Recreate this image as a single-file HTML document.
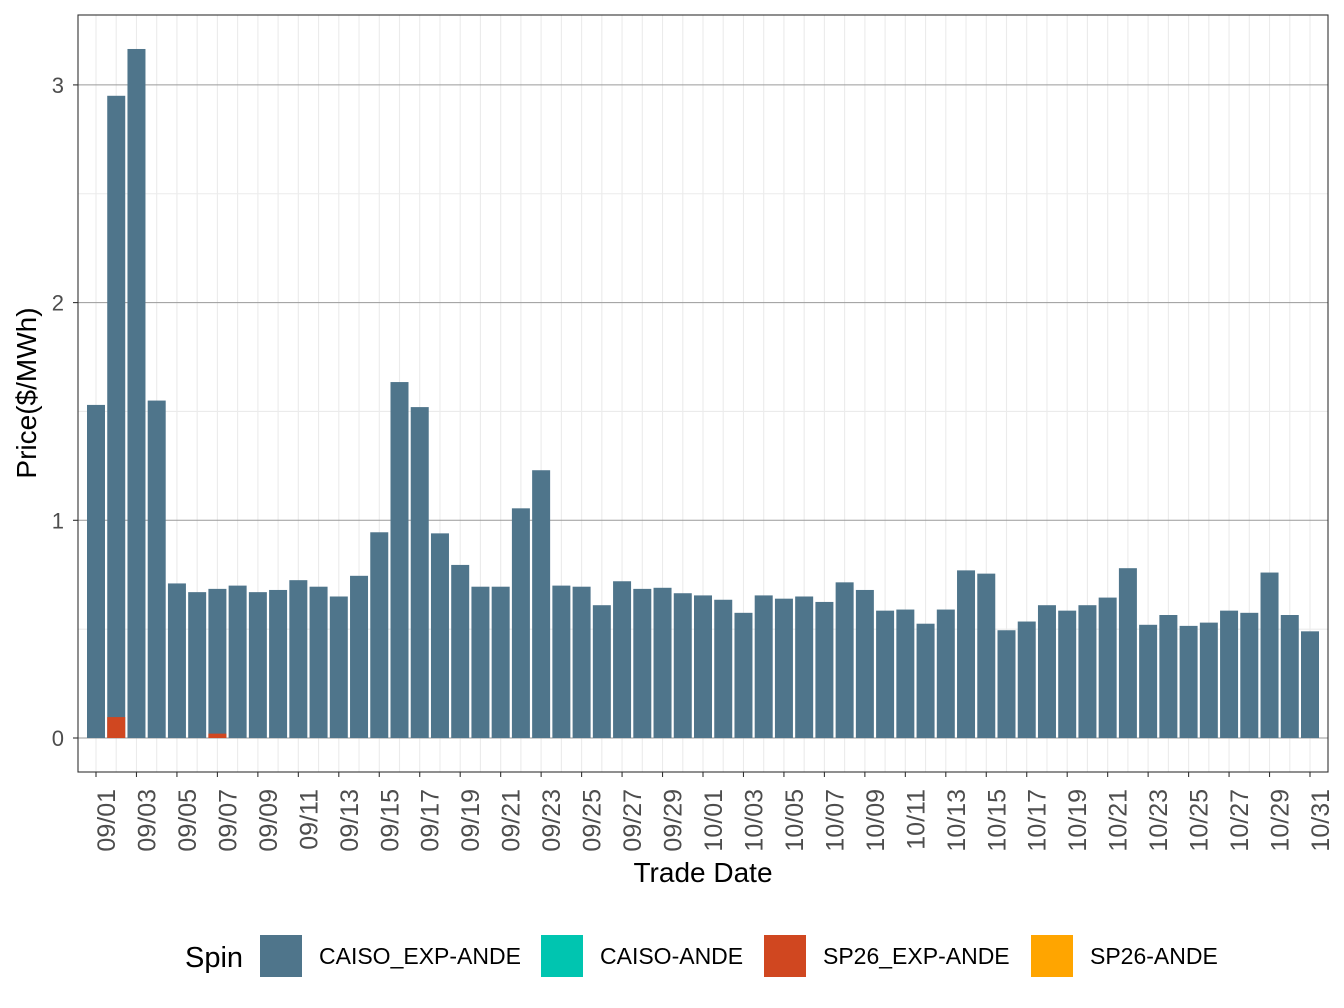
<!DOCTYPE html>
<html><head><meta charset="utf-8">
<style>
body{margin:0;background:#fff;}
svg{display:block;font-family:"Liberation Sans",Arial,sans-serif;}
</style></head>
<body>
<svg id="chart" width="1344" height="1008">
<rect x="0" y="0" width="1344" height="1008" fill="#fff"/>
<g id="grid"></g>
<g id="bars"></g>
<g id="axes"></g>
<g id="legend"></g>
</svg>
<script>
const dates=["09/01","09/02","09/03","09/04","09/05","09/06","09/07","09/08","09/09","09/10","09/11","09/12","09/13","09/14","09/15","09/16","09/17","09/18","09/19","09/20","09/21","09/22","09/23","09/24","09/25","09/26","09/27","09/28","09/29","09/30","10/01","10/02","10/03","10/04","10/05","10/06","10/07","10/08","10/09","10/10","10/11","10/12","10/13","10/14","10/15","10/16","10/17","10/18","10/19","10/20","10/21","10/22","10/23","10/24","10/25","10/26","10/27","10/28","10/29","10/30","10/31"];
const caisoExp=[1.53,2.95,3.165,1.55,0.71,0.67,0.685,0.70,0.67,0.68,0.725,0.695,0.65,0.745,0.945,1.635,1.52,0.94,0.795,0.695,0.695,1.055,1.23,0.70,0.695,0.61,0.72,0.685,0.69,0.665,0.655,0.635,0.575,0.655,0.64,0.65,0.625,0.715,0.68,0.585,0.59,0.525,0.59,0.77,0.755,0.495,0.535,0.61,0.585,0.61,0.645,0.78,0.52,0.565,0.515,0.53,0.585,0.575,0.76,0.565,0.49];
const sp26Exp=[0,0.096,0,0,0,0,0.02,0,0,0,0,0,0,0,0,0,0,0,0,0,0,0,0,0,0,0,0,0,0,0,0,0,0,0,0,0,0,0,0,0,0,0,0,0,0,0,0,0,0,0,0,0,0,0,0,0,0,0,0,0,0];
const yTicks=[0,1,2,3];
const legendLabels=["CAISO_EXP-ANDE","CAISO-ANDE","SP26_EXP-ANDE","SP26-ANDE"];
const legendColors=["#4f758b","#00c5b0","#d04720","#ffa500"];

const NS="http://www.w3.org/2000/svg";
const L=78,R=1328,T=15,B=772;
const x0=96,step=(1310-96)/60,bw=18;
function xs(i){return x0+i*step;}
function ys(v){return 738-v*217.7;}
function mk(tag,attrs,parent){const e=document.createElementNS(NS,tag);for(const k in attrs)e.setAttribute(k,attrs[k]);parent.appendChild(e);return e;}
const grid=document.getElementById('grid'),bars=document.getElementById('bars'),axes=document.getElementById('axes'),leg=document.getElementById('legend');

for(let i=0;i<dates.length;i++){
  const l=mk('line',{x1:xs(i),x2:xs(i),y1:T,y2:B,stroke:'#ebebeb','stroke-width':1.1},grid);
  
  
}
for(let k=0;k<yTicks.length;k++){
  const v=yTicks[k]+0.5;
  if(ys(v)>T){const m=mk('line',{x1:L,x2:R,y1:ys(v),y2:ys(v),stroke:'#ebebeb','stroke-width':1.1},grid);
  
  }
}
yTicks.forEach(t=>{
  const g=mk('line',{x1:L,x2:R,y1:ys(t),y2:ys(t),stroke:'#9a9a9a','stroke-width':1},grid);
  
  
  const tk=mk('line',{x1:L-5,x2:L,y1:ys(t),y2:ys(t),stroke:'#333','stroke-width':1.1},axes);
  
  
  const tx=mk('text',{x:64,y:ys(t)+8,'text-anchor':'end','font-size':22,fill:'#4d4d4d'},axes);
  tx.textContent=t;
  
  
});

caisoExp.forEach((v,i)=>{
  const r=mk('rect',{x:xs(i)-bw/2,y:ys(v),width:bw,height:ys(0)-ys(v),fill:'#4f758b'},bars);
  
  
});
sp26Exp.forEach((v,i)=>{
  if(v<=0)return;
  const r=mk('rect',{x:xs(i)-bw/2,y:ys(v),width:bw,height:ys(0)-ys(v),fill:'#d04720'},bars);
  
  
});

const frame=mk('rect',{x:L,y:T,width:R-L,height:B-T,fill:'none',stroke:'#333','stroke-width':1.1},axes);



dates.forEach((d,i)=>{
  if(i%2)return;
  const tk=mk('line',{x1:xs(i),x2:xs(i),y1:B,y2:B+5,stroke:'#333','stroke-width':1.1},axes);
  
  
  const tx=mk('text',{x:0,y:0,'text-anchor':'end','font-size':25,fill:'#4d4d4d',transform:`translate(${xs(i)+19},${789}) rotate(-90)`},axes);
  tx.textContent=d;
  
  
});

const xt=mk('text',{x:703,y:882,'text-anchor':'middle','font-size':28,fill:'#000'},axes);
xt.textContent='Trade Date';


const yt=mk('text',{x:0,y:0,'text-anchor':'middle','font-size':28,fill:'#000',transform:'translate(36,393) rotate(-90)'},axes);
yt.textContent='Price($/MWh)';



const lt=mk('text',{x:185,y:967,'font-size':29,fill:'#000'},leg);
lt.textContent='Spin';


const keyX=[260,541,764,1031];
legendLabels.forEach((lab,k)=>{
  const r=mk('rect',{x:keyX[k],y:935,width:42,height:42,fill:legendColors[k]},leg);
  
  
  const t=mk('text',{x:keyX[k]+59,y:964,'font-size':23,fill:'#000'},leg);
  t.textContent=lab;
  
  
});
</script>
</body></html>
